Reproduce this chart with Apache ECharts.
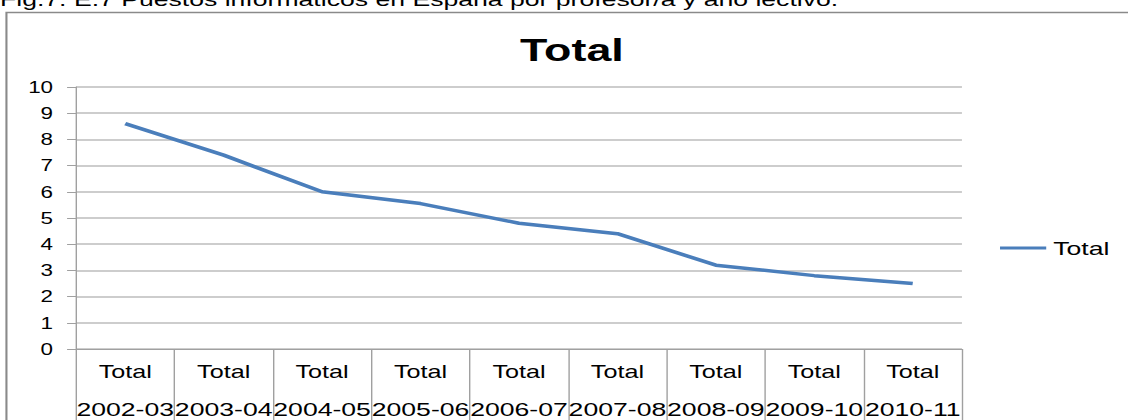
<!DOCTYPE html>
<html>
<head>
<meta charset="utf-8">
<title>Total</title>
<script src="https://cdn.jsdelivr.net/npm/echarts@6/dist/echarts.min.js"></script>
<style>
    html, body { margin: 0; padding: 0; background: #fff; overflow: hidden; }
    /* the original picture is stretched sideways, so the chart is too */
    #chart { width: 806px; height: 420px; transform: scaleX(1.4); transform-origin: 0 0; }
</style>
</head>
<body>
<div id="chart"></div>
<script>
var caption = 'Fig.7. E.7 Puestos informáticos en España por profesor/a y año lectivo.';
var chartTitle = 'Total';
var seriesName = 'Total';
var rowLabel = 'Total';
var years = ['2002-03', '2003-04', '2004-05', '2005-06', '2006-07', '2007-08', '2008-09', '2009-10', '2010-11'];
var values = [8.6, 7.4, 6.0, 5.55, 4.8, 4.4, 3.2, 2.8, 2.5];
var yMin = 0;
var yMax = 10;
var yStep = 1;

var font = '"Liberation Sans", Arial, sans-serif';
var lineColor = '#4a7ebb';
var myChart = echarts.init(document.getElementById('chart'), null, { renderer: 'svg' });

var option = {
    animation: false,
    textStyle: { fontFamily: font, color: '#000' },
    title: {
        text: chartTitle,
        left: 403.5,
        top: 29,
        textAlign: 'center',
        textStyle: { fontFamily: font, fontSize: 32, fontWeight: 'bold', color: '#000' }
    },
    legend: {
        data: [seriesName],
        left: 714.3,
        top: 238.5,
        padding: 0,
        icon: 'rect',
        itemWidth: 33,
        itemHeight: 3,
        itemStyle: { color: lineColor },
        textStyle: { fontFamily: font, fontSize: 19, color: '#000' }
    },
    graphic: [
        {
            type: 'text',
            x: 0,
            y: -10.5,
            silent: true,
            style: { text: caption, fontFamily: font, fontSize: 19, fill: '#000' }
        },
        {
            // chart frame, only top and left edges are in the picture
            type: 'rect',
            silent: true,
            shape: { x: 4.6, y: 12.5, width: 900, height: 500 },
            style: { fill: 'none', stroke: '#8a8a8a', lineWidth: 1.5 }
        }
    ],
    grid: { left: 54.3, right: 118.9, top: 87, bottom: 71 },
    xAxis: {
        type: 'category',
        data: years,
        boundaryGap: true,
        axisLine: { lineStyle: { color: '#a0a0a0', width: 1 } },
        axisTick: { show: true, interval: 0, length: 75, lineStyle: { color: '#a0a0a0', width: 1 } },
        axisLabel: {
            interval: 0,
            margin: 4.5,
            color: '#000',
            formatter: function (v) {
                return '{a|' + rowLabel + '}\n{b|' + v + '}';
            },
            rich: {
                a: { fontFamily: font, fontSize: 18, lineHeight: 37, color: '#000' },
                b: { fontFamily: font, fontSize: 19, lineHeight: 37, color: '#000' }
            }
        }
    },
    yAxis: {
        type: 'value',
        min: yMin,
        max: yMax,
        interval: yStep,
        axisLine: { show: true, lineStyle: { color: '#a0a0a0', width: 1 } },
        axisTick: { show: true, length: 6.4, lineStyle: { color: '#a0a0a0', width: 1 } },
        axisLabel: { margin: 16.4, fontFamily: font, fontSize: 16, color: '#000' },
        splitLine: { lineStyle: { color: '#bdbdbd', width: 1.5 } }
    },
    series: [{
        name: seriesName,
        type: 'line',
        data: values,
        symbol: 'none',
        lineStyle: { color: lineColor, width: 3.5 },
        itemStyle: { color: lineColor }
    }]
};

myChart.setOption(option);
</script>
</body>
</html>
